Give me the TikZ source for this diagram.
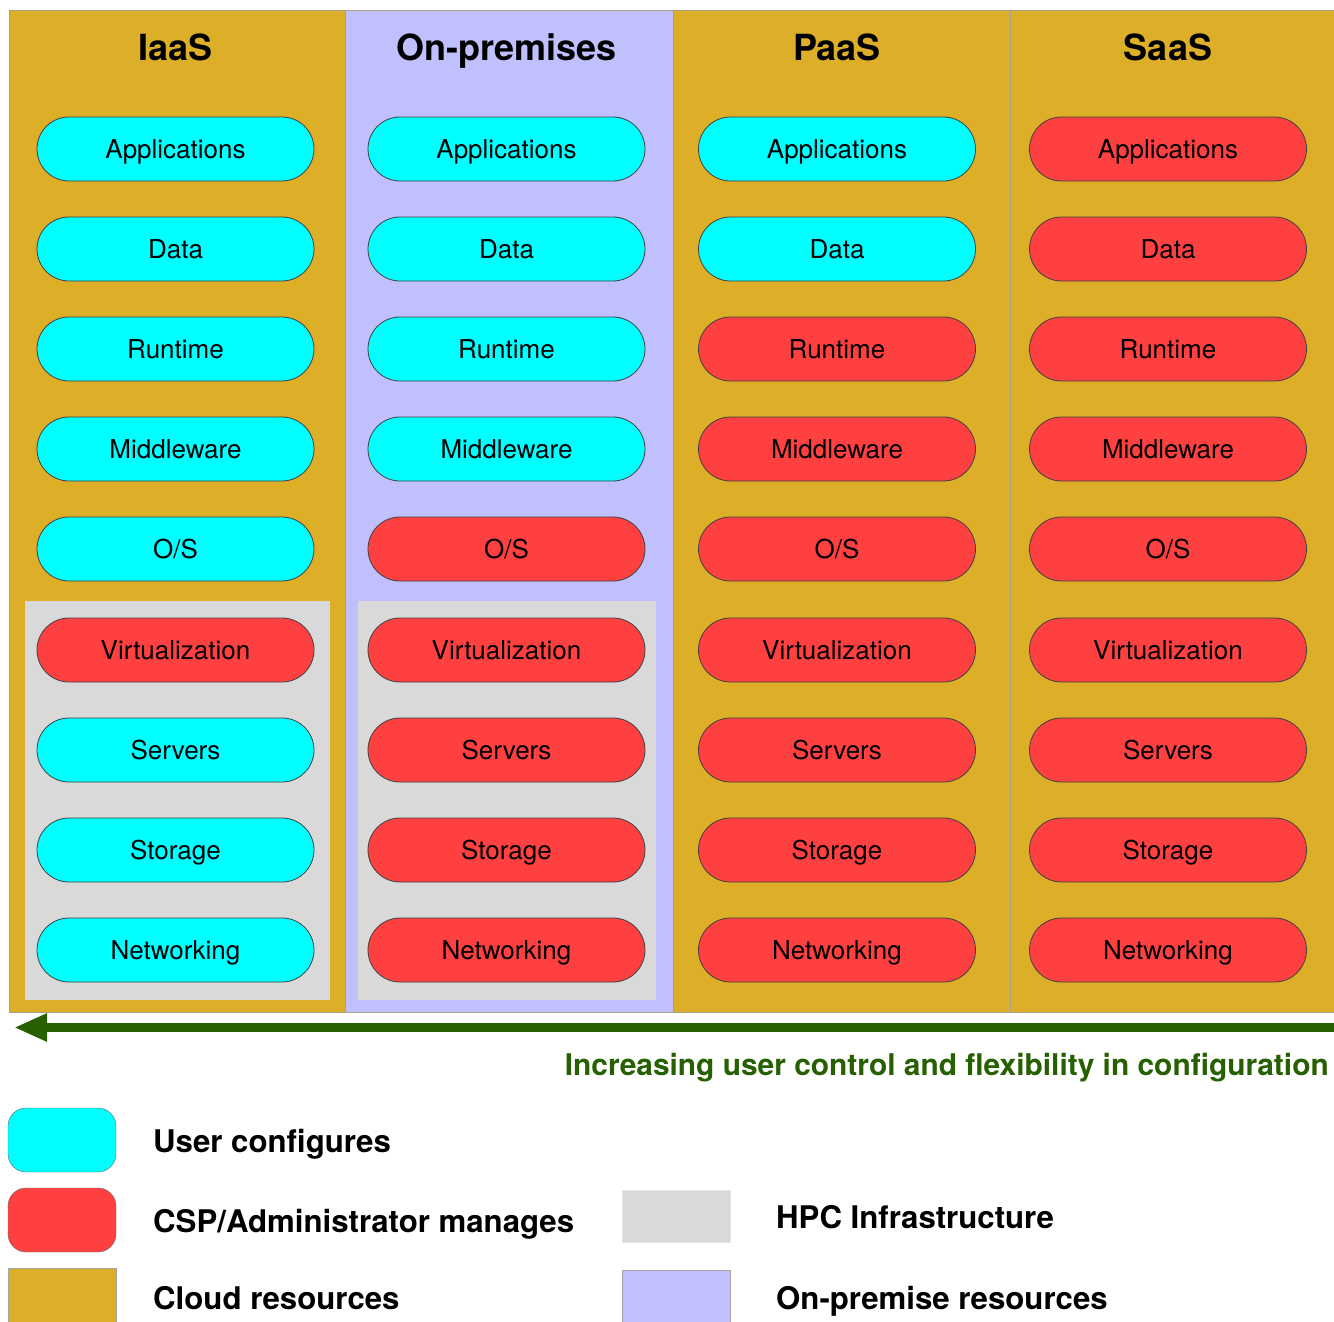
\documentclass[tikz,border=0pt]{standalone}
\usepackage{fontspec}
\setmainfont{TeX Gyre Heros}
\usetikzlibrary{arrows.meta,positioning}

\definecolor{cloud}{RGB}{221,174,40}
\definecolor{onprem}{RGB}{192,192,255}
\definecolor{usercfg}{RGB}{0,255,255}
\definecolor{cspman}{RGB}{255,64,64}
\definecolor{hpcgray}{RGB}{217,217,217}
\definecolor{ctrlgreen}{RGB}{38,96,0}
\definecolor{colline}{RGB}{168,160,140}

\begin{document}
\begin{tikzpicture}[x=1pt,y=-1pt,
  layer/.style={draw=black!75,line width=0.8pt,rounded corners=32pt,minimum width=277pt,minimum height=64pt,
    inner sep=0pt,text height=18.5pt,text depth=0pt,font=\fontsize{26}{28}\selectfont},
  usr/.style={layer,fill=usercfg},
  csp/.style={layer,fill=cspman},
  head/.style={anchor=base,font=\fontsize{36}{40}\selectfont\bfseries},
  swatch/.style={minimum width=108pt,minimum height=64pt,inner sep=0pt},
  key/.style={anchor=base west,inner sep=0pt,font=\fontsize{31.2}{34}\selectfont\bfseries}]
  \useasboundingbox (0,0) rectangle (1334,1322);
  % columns
  \draw[colline,line width=1pt,fill=cloud] (9,11) rectangle (345,1012);
  \draw[colline,line width=1pt,fill=onprem] (345,11) rectangle (673,1012);
  \draw[colline,line width=1pt,fill=cloud] (673,11) rectangle (1010,1012);
  \draw[colline,line width=1pt,fill=cloud] (1010,11) rectangle (1338,1012);
  \fill[hpcgray] (25,601) rectangle (330,1000);
  \fill[hpcgray] (358,601) rectangle (656,1000);

  \node[head] (iaas) at (175.5,61) {IaaS};
  \node[head] (onpr) at (506.5,61) {On-premises};
  \node[head] (paas) at (837,61) {PaaS};
  \node[head] (saas) at (1168,61) {SaaS};

  % IaaS
  \node[usr] (ia1) at (175.5,149) {Applications};
  \node[usr] (ia2) at (175.5,249) {Data};
  \node[usr] (ia3) at (175.5,349) {Runtime};
  \node[usr] (ia4) at (175.5,449) {Middleware};
  \node[usr] (ia5) at (175.5,549) {O/S};
  \node[csp] (ia6) at (175.5,650) {Virtualization};
  \node[usr] (ia7) at (175.5,750) {Servers};
  \node[usr] (ia8) at (175.5,850) {Storage};
  \node[usr] (ia9) at (175.5,950) {Networking};
  % On-premises
  \node[usr] (op1) at (506.5,149) {Applications};
  \node[usr] (op2) at (506.5,249) {Data};
  \node[usr] (op3) at (506.5,349) {Runtime};
  \node[usr] (op4) at (506.5,449) {Middleware};
  \node[csp] (op5) at (506.5,549) {O/S};
  \node[csp] (op6) at (506.5,650) {Virtualization};
  \node[csp] (op7) at (506.5,750) {Servers};
  \node[csp] (op8) at (506.5,850) {Storage};
  \node[csp] (op9) at (506.5,950) {Networking};
  % PaaS
  \node[usr] (pa1) at (837,149) {Applications};
  \node[usr] (pa2) at (837,249) {Data};
  \node[csp] (pa3) at (837,349) {Runtime};
  \node[csp] (pa4) at (837,449) {Middleware};
  \node[csp] (pa5) at (837,549) {O/S};
  \node[csp] (pa6) at (837,650) {Virtualization};
  \node[csp] (pa7) at (837,750) {Servers};
  \node[csp] (pa8) at (837,850) {Storage};
  \node[csp] (pa9) at (837,950) {Networking};
  % SaaS
  \node[csp] (sa1) at (1168,149) {Applications};
  \node[csp] (sa2) at (1168,249) {Data};
  \node[csp] (sa3) at (1168,349) {Runtime};
  \node[csp] (sa4) at (1168,449) {Middleware};
  \node[csp] (sa5) at (1168,549) {O/S};
  \node[csp] (sa6) at (1168,650) {Virtualization};
  \node[csp] (sa7) at (1168,750) {Servers};
  \node[csp] (sa8) at (1168,850) {Storage};
  \node[csp] (sa9) at (1168,950) {Networking};

  % control arrow
  \coordinate (ctrlR) at (1336,1027.5);
  \coordinate (ctrlL) at (14,1027.5);
  \draw[ctrlgreen,line width=9pt,-{Triangle[length=33pt,width=26pt]}] (ctrlR) -- (ctrlL);
  \node[anchor=base east,inner sep=0pt,text=ctrlgreen,font=\fontsize{29.9}{32}\selectfont\bfseries] (ctrl) at (1329,1075)
    {Increasing user control and flexibility in configuration};

  % legend
  \node[swatch,draw=black!60,rounded corners=18pt,fill=usercfg] (kusr) at (62,1140) {};
  \node[swatch,draw=black!60,rounded corners=18pt,fill=cspman] (kcsp) at (62,1220) {};
  \node[swatch,draw=black!35,fill=cloud,anchor=north] (kcld) at (62,1268) {};
  \node[swatch,draw=black!10,fill=hpcgray,minimum height=52pt] (khpc) at (676.5,1216) {};
  \node[swatch,draw=black!35,fill=onprem,anchor=north] (kopr) at (676.5,1270) {};
  \node[key] (lusr) at (153,1152) {User configures};
  \node[key] (lcsp) at (153,1232) {CSP/Administrator manages};
  \node[key] (lcld) at (153,1309) {Cloud resources};
  \node[key] (lhpc) at (776,1228) {HPC Infrastructure};
  \node[key] (lopr) at (776,1309) {On-premise resources};
\end{tikzpicture}
\end{document}
